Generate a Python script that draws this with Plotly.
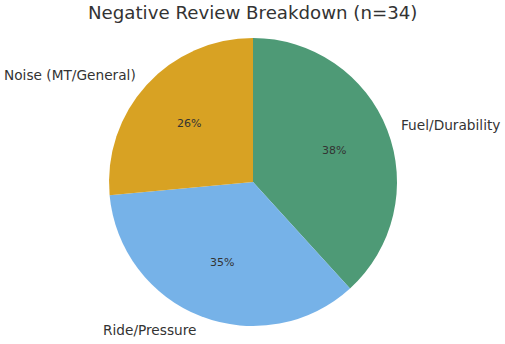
import math
import plotly.graph_objects as go

categories = ["Fuel/Durability", "Ride/Pressure", "Noise (MT/General)"]
counts = [13, 12, 9]
colors = ["#4E9A76", "#76B2E8", "#D8A223"]
title_text = "Negative Review Breakdown (n=34)"

W, H = 505, 344
cx, cy, R = 253, 182, 144  # pixel center / radius of the pie

fig = go.Figure()
fig.add_trace(go.Pie(
    labels=categories, values=counts, sort=False, direction="clockwise", rotation=0,
    marker=dict(colors=colors, line=dict(width=0)),
    textinfo="none", hoverinfo="skip", showlegend=False,
    domain=dict(x=[(cx - R) / W, (cx + R) / W], y=[1 - (cy + R) / H, 1 - (cy - R) / H]),
))

total = sum(counts)
annotations = []
start = 90.0
for lab, v in zip(categories, counts):
    span = 360.0 * v / total
    mid = math.radians(start - span / 2)
    start -= span
    # outer label at 1.1 R
    lx = cx + 1.1 * R * math.cos(mid)
    ly = cy - 1.1 * R * math.sin(mid)
    annotations.append(dict(
        x=lx / W, y=1 - ly / H, xref="paper", yref="paper", text=lab, showarrow=False,
        xanchor="left" if math.cos(mid) >= 0 else "right", yanchor="middle",
        borderpad=0, borderwidth=0,
        font=dict(family="DejaVu Sans", size=13.7, color="#333333"),
    ))
    # percent label at 0.6 R
    px = cx + 0.6 * R * math.cos(mid)
    py = cy - 0.6 * R * math.sin(mid)
    annotations.append(dict(
        x=px / W, y=1 - py / H, xref="paper", yref="paper",
        text=f"{100 * v / total:.0f}%", showarrow=False, xanchor="center", yanchor="middle",
        font=dict(family="DejaVu Sans", size=11, color="#333333"),
    ))

annotations.append(dict(
    x=0.5, y=1 - 13 / H, xref="paper", yref="paper", text=title_text, showarrow=False,
    xanchor="center", yanchor="middle",
    font=dict(family="DejaVu Sans", size=18.2, color="#333333"),
))

fig.update_layout(
    width=W, height=H, margin=dict(l=0, r=0, t=0, b=0),
    paper_bgcolor="white", plot_bgcolor="white",
    annotations=annotations,
)
fig.write_html("out.html")
